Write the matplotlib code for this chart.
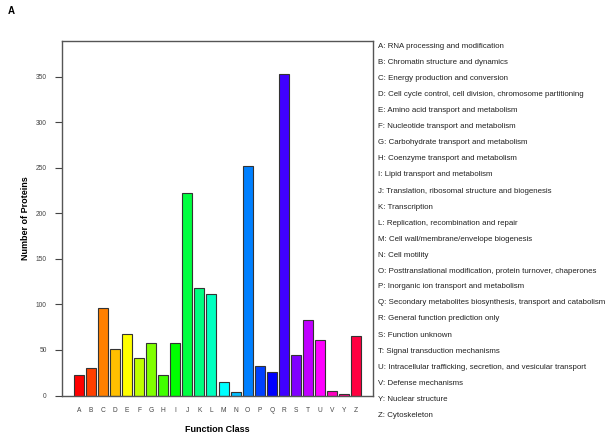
import matplotlib.pyplot as plt
import colorsys

# COG function classes and protein counts
classes = ['A', 'B', 'C', 'D', 'E', 'F', 'G', 'H', 'I', 'J', 'K', 'L',
           'M', 'N', 'O', 'P', 'Q', 'R', 'S', 'T', 'U', 'V', 'Y', 'Z']
counts = [23, 30, 96, 51, 68, 41, 58, 23, 58, 222, 118, 112,
          15, 4, 252, 32, 26, 353, 45, 83, 61, 5, 2, 65]
descriptions = [
    'RNA processing and modification',
    'Chromatin structure and dynamics',
    'Energy production and conversion',
    'Cell cycle control, cell division, chromosome partitioning',
    'Amino acid transport and metabolism',
    'Nucleotide transport and metabolism',
    'Carbohydrate transport and metabolism',
    'Coenzyme transport and metabolism',
    'Lipid transport and metabolism',
    'Translation, ribosomal structure and biogenesis',
    'Transcription',
    'Replication, recombination and repair',
    'Cell wall/membrane/envelope biogenesis',
    'Cell motility',
    'Posttranslational modification, protein turnover, chaperones',
    'Inorganic ion transport and metabolism',
    'Secondary metabolites biosynthesis, transport and catabolism',
    'General function prediction only',
    'Function unknown',
    'Signal transduction mechanisms',
    'Intracellular trafficking, secretion, and vesicular transport',
    'Defense mechanisms',
    'Nuclear structure',
    'Cytoskeleton',
]
y_ticks = [0, 50, 100, 150, 200, 250, 300, 350]

plt.rcParams['font.family'] = ['Liberation Sans', 'DejaVu Sans']

n = len(classes)
# R-style rainbow(n) palette
colors = [colorsys.hsv_to_rgb(i / n, 1, 1) for i in range(n)]

W, H = 608, 440
fig = plt.figure(figsize=(W / 100, H / 100), dpi=100)
ax = fig.add_axes([62 / W, 1 - 395.5 / H, (373 - 62) / W, (395.5 - 41) / H])

x = list(range(n))
ax.bar(x, counts, width=0.83, color=colors, edgecolor='#333333', linewidth=0.8)
ax.set_xlim(-1.385, n - 1 + 1.385)
ax.set_ylim(0, 389.5)

for side in ['left', 'right', 'top', 'bottom']:
    ax.spines[side].set_color('#555555')
    ax.spines[side].set_linewidth(1.0)

ax.set_yticks(y_ticks)
ax.set_yticklabels([str(v) for v in y_ticks], fontsize=4.8, color='#444444')
ax.tick_params(axis='y', length=5, width=0.8, color='#444444', pad=6)
ax.set_xticks(x)
ax.set_xticklabels(classes, fontsize=4.8, color='#444444')
ax.tick_params(axis='x', length=0, pad=8)

ax.set_xlabel('Function Class', fontsize=6.5, fontweight='bold', labelpad=8)
ax.set_ylabel('Number of Proteins', fontsize=6.5, fontweight='bold', labelpad=4)

fig.text(8 / W, 1 - 11 / H, 'A', fontsize=7, fontweight='bold', va='center')

for i, (c, d) in enumerate(zip(classes, descriptions)):
    fig.text(378 / W, 1 - (47 + i * 16) / H, f'{c}: {d}',
             fontsize=5.7, color='#222222', va='center', ha='left')

fig.savefig('out.png', dpi=100)
